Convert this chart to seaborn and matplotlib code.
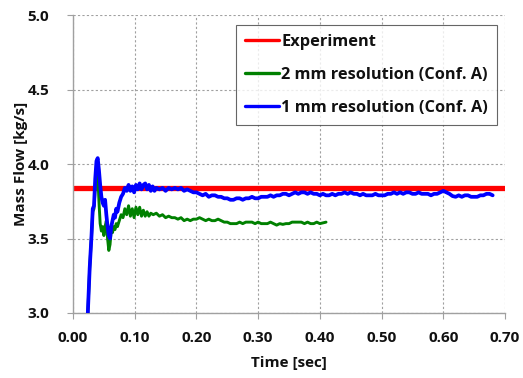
import numpy as np
import pandas as pd
import matplotlib
matplotlib.use("Agg")
import matplotlib.pyplot as plt
import seaborn as sns

# experimental mass flow (constant reference)
experiment_value = 3.84

# 1 mm resolution (Conf. A)
t_1mm = [0.024, 0.027, 0.030, 0.032, 0.034, 0.036, 0.038, 0.040, 0.042, 0.044,
         0.046, 0.048, 0.050, 0.052, 0.054, 0.056, 0.058, 0.060, 0.062, 0.064,
         0.066, 0.068, 0.070, 0.072, 0.075, 0.078, 0.081, 0.084, 0.087, 0.090,
         0.093, 0.096, 0.099, 0.102, 0.105, 0.108, 0.111, 0.114, 0.117, 0.120,
         0.123, 0.126, 0.129, 0.132, 0.135, 0.140, 0.145, 0.150, 0.155, 0.160,
         0.165, 0.170, 0.175, 0.180, 0.185, 0.190, 0.195, 0.200, 0.205, 0.210,
         0.215, 0.220, 0.225, 0.230, 0.235, 0.240, 0.245, 0.250, 0.255, 0.260,
         0.265, 0.270, 0.275, 0.280, 0.285, 0.290, 0.295, 0.300, 0.305, 0.310,
         0.315, 0.320, 0.325, 0.330, 0.335, 0.340, 0.345, 0.350, 0.355, 0.360,
         0.365, 0.370, 0.375, 0.380, 0.385, 0.390, 0.395, 0.400, 0.405, 0.410,
         0.415, 0.420, 0.425, 0.430, 0.435, 0.440, 0.445, 0.450, 0.455, 0.460,
         0.465, 0.470, 0.475, 0.480, 0.485, 0.490, 0.495, 0.500, 0.505, 0.510,
         0.515, 0.520, 0.525, 0.530, 0.535, 0.540, 0.545, 0.550, 0.555, 0.560,
         0.565, 0.570, 0.575, 0.580, 0.585, 0.590, 0.595, 0.600, 0.605, 0.610,
         0.615, 0.620, 0.625, 0.630, 0.635, 0.640, 0.645, 0.650, 0.655, 0.660,
         0.665, 0.670, 0.675, 0.680]
m_1mm = [3.00, 3.30, 3.52, 3.70, 3.72, 3.90, 4.02, 4.04, 3.96, 3.86,
         3.78, 3.74, 3.72, 3.76, 3.66, 3.58, 3.52, 3.50, 3.58, 3.62,
         3.66, 3.64, 3.70, 3.68, 3.74, 3.78, 3.80, 3.84, 3.82, 3.86,
         3.82, 3.85, 3.81, 3.86, 3.83, 3.87, 3.83, 3.86, 3.87, 3.83,
         3.86, 3.82, 3.85, 3.82, 3.84, 3.83, 3.84, 3.82, 3.84, 3.83,
         3.84, 3.83, 3.84, 3.82, 3.83, 3.82, 3.81, 3.81, 3.80, 3.79,
         3.80, 3.78, 3.79, 3.79, 3.78, 3.78, 3.77, 3.77, 3.76, 3.76,
         3.77, 3.77, 3.76, 3.77, 3.77, 3.78, 3.77, 3.77, 3.78, 3.78,
         3.78, 3.79, 3.78, 3.79, 3.79, 3.80, 3.80, 3.79, 3.80, 3.81,
         3.80, 3.81, 3.81, 3.80, 3.81, 3.80, 3.80, 3.79, 3.80, 3.79,
         3.79, 3.80, 3.79, 3.80, 3.80, 3.81, 3.80, 3.81, 3.80, 3.80,
         3.79, 3.80, 3.79, 3.79, 3.79, 3.80, 3.79, 3.79, 3.79, 3.80,
         3.80, 3.81, 3.80, 3.81, 3.80, 3.81, 3.81, 3.80, 3.80, 3.81,
         3.80, 3.80, 3.80, 3.79, 3.80, 3.80, 3.81, 3.82, 3.81, 3.80,
         3.785, 3.78, 3.79, 3.78, 3.79, 3.79, 3.78, 3.78, 3.78, 3.79,
         3.79, 3.80, 3.80, 3.79]

# 2 mm resolution (Conf. A)
t_2mm = [0.024, 0.027, 0.030, 0.032, 0.034, 0.036, 0.038, 0.040, 0.042, 0.044,
         0.046, 0.048, 0.050, 0.052, 0.054, 0.056, 0.058, 0.060, 0.062, 0.064,
         0.066, 0.068, 0.070, 0.072, 0.075, 0.078, 0.081, 0.084, 0.087, 0.090,
         0.093, 0.096, 0.099, 0.102, 0.105, 0.108, 0.111, 0.114, 0.117, 0.120,
         0.123, 0.126, 0.130, 0.135, 0.140, 0.145, 0.150, 0.155, 0.160, 0.165,
         0.170, 0.175, 0.180, 0.185, 0.190, 0.195, 0.200, 0.205, 0.210, 0.215,
         0.220, 0.225, 0.230, 0.235, 0.240, 0.245, 0.250, 0.255, 0.260, 0.265,
         0.270, 0.275, 0.280, 0.285, 0.290, 0.295, 0.300, 0.305, 0.310, 0.315,
         0.320, 0.325, 0.330, 0.335, 0.340, 0.345, 0.350, 0.355, 0.360, 0.365,
         0.370, 0.375, 0.380, 0.385, 0.390, 0.395, 0.400, 0.405, 0.410]
m_2mm = [3.00, 3.30, 3.52, 3.68, 3.70, 3.85, 3.98, 3.95, 3.75, 3.60,
         3.55, 3.58, 3.52, 3.58, 3.62, 3.50, 3.42, 3.46, 3.56, 3.54,
         3.58, 3.56, 3.60, 3.58, 3.62, 3.66, 3.64, 3.70, 3.66, 3.72,
         3.65, 3.70, 3.64, 3.71, 3.66, 3.71, 3.65, 3.69, 3.65, 3.68,
         3.65, 3.67, 3.66, 3.67, 3.65, 3.66, 3.64, 3.65, 3.64, 3.64,
         3.63, 3.64, 3.62, 3.63, 3.62, 3.63, 3.63, 3.64, 3.63, 3.62,
         3.63, 3.62, 3.62, 3.63, 3.62, 3.61, 3.61, 3.60, 3.60, 3.60,
         3.61, 3.60, 3.61, 3.61, 3.61, 3.60, 3.61, 3.60, 3.60, 3.60,
         3.61, 3.60, 3.59, 3.60, 3.595, 3.60, 3.60, 3.61, 3.61, 3.61,
         3.61, 3.60, 3.61, 3.60, 3.60, 3.61, 3.60, 3.605, 3.61]

x_ticks = [0.0, 0.1, 0.2, 0.3, 0.4, 0.5, 0.6, 0.7]
y_ticks = [3.0, 3.5, 4.0, 4.5, 5.0]

sns.set_style("white")
plt.rcParams['font.family'] = ['Open Sans', 'DejaVu Sans']
plt.rcParams['font.weight'] = 'bold'
plt.rcParams['text.color'] = '#111111'
plt.rcParams['axes.labelcolor'] = '#111111'
plt.rcParams['xtick.labelcolor'] = '#111111'
plt.rcParams['ytick.labelcolor'] = '#111111'

fig = plt.figure(figsize=(5.23, 3.78), dpi=100)
ax = fig.add_axes([0.1396, 0.172, 0.826, 0.788])

ax.axhline(experiment_value, color='#ff0000', linewidth=3.8, label='Experiment', zorder=2)
sns.lineplot(x=t_2mm, y=m_2mm, ax=ax, color='#008000', linewidth=2.1,
             label='2 mm resolution (Conf. A)', estimator=None, zorder=3)
sns.lineplot(x=t_1mm, y=m_1mm, ax=ax, color='#0000ff', linewidth=2.7,
             label='1 mm resolution (Conf. A)', estimator=None, zorder=4)

ax.set_xlim(0, 0.7)
ax.set_ylim(3.0, 5.0)
ax.set_xticks(x_ticks)
ax.set_yticks(y_ticks)
ax.set_xticklabels([f"{v:.2f}" for v in x_ticks], fontsize=11, fontweight='bold')
ax.set_yticklabels([f"{v:.1f}" for v in y_ticks], fontsize=11, fontweight='bold')
ax.set_xlabel('Time [sec]', fontsize=11, fontweight='bold', labelpad=8)
ax.set_ylabel('Mass Flow [kg/s]', fontsize=11, fontweight='bold', labelpad=0)

ax.grid(True, color='#a0a0a0', linestyle=(0, (2, 2)), linewidth=0.8)
ax.set_axisbelow(True)
for side in ['top', 'right']:
    ax.spines[side].set_visible(False)
for side in ['left', 'bottom']:
    ax.spines[side].set_color('#a0a0a0')
    ax.spines[side].set_linewidth(1.0)
ax.tick_params(axis='y', length=4, color='#a0a0a0', direction='out', left=True, pad=13)
ax.tick_params(axis='x', length=4, color='#a0a0a0', direction='out', bottom=True, pad=9)

leg = ax.legend(loc='upper right', bbox_to_anchor=(0.982, 0.968), fontsize=11.8,
                frameon=True, fancybox=False, edgecolor='#404040',
                handlelength=2.1, handletextpad=0.15, labelspacing=1.05,
                borderpad=0.55, borderaxespad=0)
leg.get_frame().set_linewidth(0.8)
for line in leg.get_lines():
    line.set_linewidth(2.4)
for txt in leg.get_texts():
    txt.set_fontweight('bold')

fig.savefig('out.png', dpi=100)
